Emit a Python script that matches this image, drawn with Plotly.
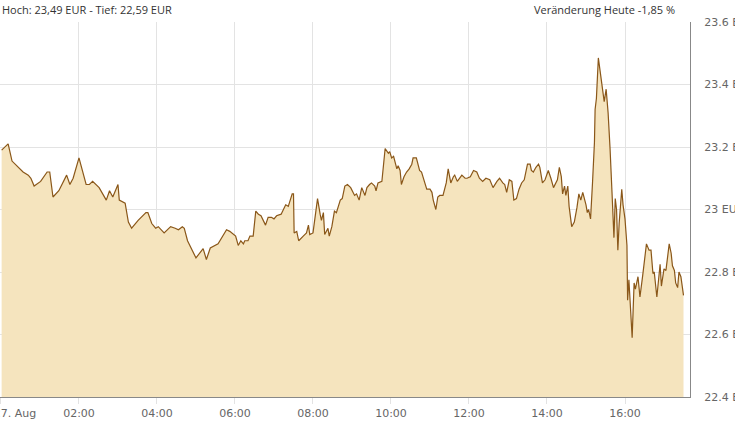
import plotly.graph_objects as go

day = "2025-08-27"
times = [
    "00:01", "00:11", "00:17", "00:29", "00:34", "00:42", "00:46", "00:51", "01:01", "01:11",
    "01:15", "01:20", "01:29", "01:41", "01:46", "01:51", "02:00", "02:11", "02:16", "02:21",
    "02:31", "02:42", "02:47", "02:52", "03:00", "03:02", "03:11", "03:16", "03:21", "03:31",
    "03:43", "03:46", "03:52", "03:58", "04:02", "04:11", "04:21", "04:28", "04:33", "04:39",
    "04:42", "04:47", "04:53", "05:00", "05:11", "05:16", "05:22", "05:29", "05:34", "05:47",
    "05:52", "06:01", "06:05", "06:09", "06:13", "06:15", "06:20", "06:23", "06:28", "06:32",
    "06:36", "06:40", "06:47", "06:51", "06:56", "07:00", "07:04", "07:11", "07:18", "07:22",
    "07:28", "07:30", "07:31", "07:35", "07:38", "07:45", "07:50", "07:53", "07:55", "08:00",
    "08:07", "08:11", "08:13", "08:16", "08:18", "08:23", "08:25", "08:29", "08:33", "08:36",
    "08:42", "08:45", "08:49", "08:53", "08:58", "09:04", "09:07", "09:11", "09:15", "09:20",
    "09:23", "09:27", "09:30", "09:35", "09:37", "09:40", "09:46", "09:51", "09:53", "09:56",
    "09:58", "10:01", "10:04", "10:06", "10:09", "10:11", "10:14", "10:16", "10:20", "10:24",
    "10:28", "10:32", "10:34", "10:39", "10:44", "10:47", "10:52", "10:55", "11:00", "11:03",
    "11:05", "11:09", "11:12", "11:15", "11:20", "11:25", "11:28", "11:32", "11:36", "11:38",
    "11:42", "11:45", "11:49", "11:54", "11:57", "12:02", "12:07", "12:12", "12:16", "12:21",
    "12:26", "12:32", "12:37", "12:43", "12:47", "12:52", "12:55", "12:58", "13:02", "13:06",
    "13:09", "13:13", "13:17", "13:21", "13:25", "13:30", "13:34", "13:36", "13:39", "13:43",
    "13:47", "13:49", "13:53", "13:57", "14:00", "14:02", "14:06", "14:10", "14:16", "14:19",
    "14:22", "14:24", "14:27", "14:29", "14:32", "14:34", "14:38", "14:42", "14:46", "14:49",
    "14:52", "14:55", "15:00", "15:02", "15:04", "15:07", "15:10", "15:13", "15:14", "15:16",
    "15:19", "15:22", "15:24", "15:28", "15:31", "15:34", "15:37", "15:38", "15:40", "15:43",
    "15:45", "15:47", "15:49", "15:51", "15:55", "15:57", "16:00", "16:03", "16:04", "16:06",
    "16:09", "16:11", "16:14", "16:16", "16:20", "16:23", "16:27", "16:30", "16:33", "16:37",
    "16:40", "16:43", "16:45", "16:49", "16:51", "16:54", "16:56", "17:00", "17:03", "17:06",
    "17:08", "17:11", "17:13", "17:16", "17:18", "17:21", "17:23", "17:26", "17:30",
]
prices = [
    23.19, 23.21, 23.155, 23.13, 23.12, 23.11, 23.10, 23.075, 23.09, 23.12,
    23.12, 23.04, 23.06, 23.11, 23.08, 23.10, 23.165, 23.08, 23.08, 23.09,
    23.07, 23.03, 23.06, 23.04, 23.08, 23.03, 23.02, 22.96, 22.94, 22.965,
    22.99, 22.99, 22.955, 22.94, 22.945, 22.925, 22.945, 22.94, 22.935, 22.945,
    22.94, 22.90, 22.875, 22.845, 22.875, 22.84, 22.877, 22.885, 22.89, 22.935,
    22.93, 22.915, 22.885, 22.90, 22.89, 22.90, 22.90, 22.915, 22.915, 22.995,
    22.985, 22.98, 22.95, 22.975, 22.975, 22.97, 22.98, 22.985, 23.015, 23.01,
    23.05, 23.05, 22.925, 22.93, 22.90, 22.915, 22.925, 22.95, 22.92, 22.925,
    23.035, 22.985, 22.965, 22.99, 22.92, 22.94, 22.915, 22.945, 22.995, 22.99,
    23.03, 23.035, 23.075, 23.08, 23.07, 23.045, 23.05, 23.03, 23.07, 23.045,
    23.07, 23.08, 23.085, 23.075, 23.06, 23.085, 23.09, 23.195, 23.19, 23.18,
    23.185, 23.165, 23.17, 23.155, 23.13, 23.14, 23.125, 23.08, 23.105, 23.12,
    23.13, 23.145, 23.165, 23.165, 23.125, 23.12, 23.085, 23.065, 23.065, 23.055,
    23.03, 23.0, 23.04, 23.045, 23.045, 23.085, 23.13, 23.085, 23.105, 23.11,
    23.09, 23.10, 23.11, 23.10, 23.10, 23.105, 23.125, 23.12, 23.10, 23.09,
    23.10, 23.095, 23.07, 23.09, 23.10, 23.085, 23.08, 23.055, 23.095, 23.09,
    23.03, 23.035, 23.065, 23.085, 23.095, 23.145, 23.145, 23.125, 23.12, 23.135,
    23.145, 23.135, 23.085, 23.095, 23.11, 23.125, 23.10, 23.07, 23.095, 23.135,
    23.105, 23.05, 23.075, 23.045, 23.075, 23.01, 22.945, 22.96, 23.005, 23.05,
    23.03, 23.055, 23.015, 22.99, 23.0, 22.97, 23.085, 23.215, 23.32, 23.355,
    23.485, 23.44, 23.415, 23.345, 23.385, 23.31, 23.195, 23.16, 23.055, 22.91,
    23.035, 23.0, 22.87, 22.955, 23.065, 23.015, 22.97, 22.885, 22.71, 22.775,
    22.68, 22.59, 22.765, 22.745, 22.785, 22.72, 22.785, 22.83, 22.89, 22.87,
    22.87, 22.795, 22.80, 22.72, 22.765, 22.825, 22.755, 22.81, 22.805, 22.86,
    22.89, 22.86, 22.82, 22.805, 22.765, 22.75, 22.80, 22.785, 22.725,
]
x_tick_times = ["00:00", "02:00", "04:00", "06:00", "08:00", "10:00", "12:00", "14:00", "16:00"]
x_tick_labels = ["27. Aug", "02:00", "04:00", "06:00", "08:00", "10:00", "12:00", "14:00", "16:00"]
y_tick_vals = [22.4, 22.6, 22.8, 23.0, 23.2, 23.4, 23.6]
y_tick_labels = ["22.4 EUR", "22.6 EUR", "22.8 EUR", "23 EUR", "23.2 EUR", "23.4 EUR", "23.6 EUR"]
title_left = "Hoch: 23,49 EUR - Tief: 22,59 EUR"
title_right = "Veränderung Heute -1,85 %"

xs = [f"{day} {t}" for t in times]
# first label sits partly off the left edge, as in the original; pad it so it is shifted right
tick_text = ["\u00a0" * 8 + x_tick_labels[0]] + x_tick_labels[1:]

fig = go.Figure()
fig.add_trace(go.Scatter(
    x=xs, y=prices, mode="lines",
    line=dict(color="#8a5719", width=1.2),
    fill="tozeroy", fillcolor="#f5e4be",
    hoverinfo="skip",
))

fig.update_layout(
    width=735, height=424,
    margin=dict(l=0, r=45, t=22, b=27),
    paper_bgcolor="white", plot_bgcolor="white",
    showlegend=False,
    font=dict(family="DejaVu Sans", size=11, color="#666666"),
    xaxis=dict(
        type="date",
        range=["2025-08-26 23:58:30", "2025-08-27 17:40:00"],
        tickmode="array",
        tickvals=[f"{day} {t}" for t in x_tick_times],
        ticktext=tick_text,
        showgrid=True, gridcolor="#e3e3e3", gridwidth=1,
        showline=True, linecolor="#888888", linewidth=1,
        ticks="outside", ticklen=6, tickcolor="#e3e3e3",
        ticklabeloverflow="allow",
        zeroline=False, automargin=False,
    ),
    yaxis=dict(
        side="right",
        range=[22.4, 23.6],
        tickmode="array",
        tickvals=y_tick_vals, ticktext=y_tick_labels,
        showgrid=True, gridcolor="#e3e3e3", gridwidth=1,
        showline=True, linecolor="#888888", linewidth=1,
        ticks="", ticklabelstandoff=11,
        ticklabeloverflow="allow",
        zeroline=False, automargin=False,
    ),
)

fig.add_annotation(text=title_left, xref="paper", yref="paper", x=0, y=1,
                   xanchor="left", yanchor="bottom", yshift=3, showarrow=False,
                   font=dict(family="Open Sans", size=11, color="#333333"))
fig.add_annotation(text=title_right, xref="paper", yref="paper", x=677/690, y=1,
                   xanchor="right", yanchor="bottom", yshift=3, showarrow=False,
                   font=dict(family="Open Sans", size=11, color="#333333"))

fig.write_html("out.html", config={"displayModeBar": False},
               post_script="document.body.style.margin='0';")
